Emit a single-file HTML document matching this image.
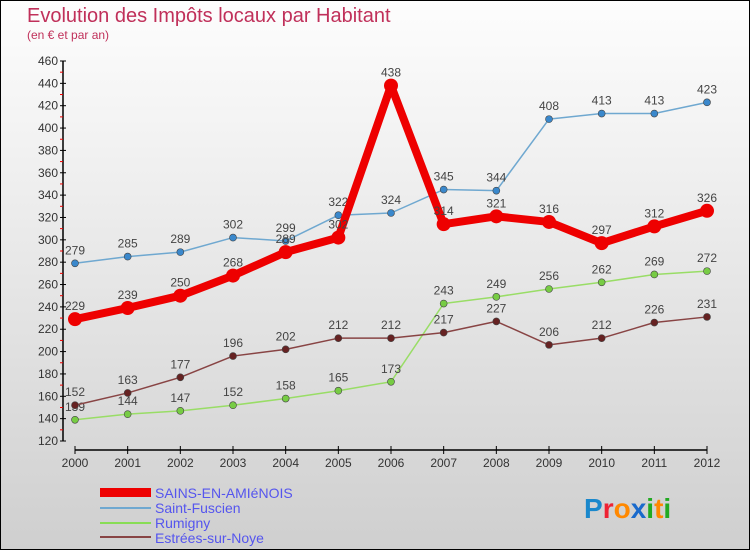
<!DOCTYPE html>
<html><head><meta charset="utf-8"><style>
body{margin:0}
#c{width:750px;height:550px;position:relative;box-sizing:border-box;border:1px solid #000;background:linear-gradient(#fdfdfd,#f0f0f0 30%,#cfcfcf);font-family:"Liberation Sans",sans-serif;overflow:hidden}
</style></head><body>
<div id="c">
<svg id="s" width="750" height="550" style="position:absolute;left:-1px;top:-1px">
<text x="27" y="22" font-size="20" fill="#c0305a">Evolution des Impôts locaux par Habitant</text>
<text x="27" y="39" font-size="12" fill="#c0305a">(en € et par an)</text>
<g id="axes"></g><g id="series"></g>
<g>
<rect x="100" y="488" width="51" height="9" fill="#ee0000"/>
<text x="155" y="498" font-size="14" fill="#5555ee">SAINS-EN-AMIéNOIS</text>
<line x1="100" y1="508" x2="151" y2="508" stroke="#6fa8d0" stroke-width="2"/>
<text x="155" y="513" font-size="14" fill="#5555ee">Saint-Fuscien</text>
<line x1="100" y1="523" x2="151" y2="523" stroke="#88dd55" stroke-width="2"/>
<text x="155" y="528" font-size="14" fill="#5555ee">Rumigny</text>
<line x1="100" y1="537" x2="151" y2="537" stroke="#884444" stroke-width="2"/>
<text x="155" y="543" font-size="14" fill="#5555ee">Estrées-sur-Noye</text>
</g>
<text x="584" y="518" font-size="28" font-weight="bold"><tspan fill="#1a88cc">P</tspan><tspan fill="#e23">r</tspan><tspan fill="#f80">o</tspan><tspan fill="#1a6acc">x</tspan><tspan fill="#2a2">i</tspan><tspan fill="#f80">t</tspan><tspan fill="#2a2">i</tspan></text>
</svg>
</div>
<script>
const years=[2000,2001,2002,2003,2004,2005,2006,2007,2008,2009,2010,2011,2012];
const sains=[229,239,250,268,289,302,438,314,321,316,297,312,326];
const fuscien=[279,285,289,302,299,322,324,345,344,408,413,413,423];
const rumigny=[139,144,147,152,158,165,173,243,249,256,262,269,272];
const estrees=[152,163,177,196,202,212,212,217,227,206,212,226,231];
const yTicks=[120,140,160,180,200,220,240,260,280,300,320,340,360,380,400,420,440,460];
const NS="http://www.w3.org/2000/svg";
const X=i=>75+i*(707-75)/12;
const Y=v=>441-(v-120)*(380/340);
function mk(tag,at,par){const e=document.createElementNS(NS,tag);for(const k in at)e.setAttribute(k,at[k]);par.appendChild(e);return e;}
const ax=document.getElementById('axes');
let a=mk('line',{x1:63,y1:Y(460),x2:63,y2:Y(120),stroke:'#000','stroke-width':1.5},ax);


a=mk('line',{x1:X(0),y1:450,x2:X(12),y2:450,stroke:'#000','stroke-width':1.5},ax);


yTicks.forEach(t=>{
 mk('line',{x1:60,x2:66,y1:Y(t),y2:Y(t),stroke:'#000'},ax);
 if(t<460)mk('line',{x1:60,x2:63,y1:Y(t+10),y2:Y(t+10),stroke:'#e00'},ax);
 const tx=mk('text',{x:58,y:Y(t)+4,'font-size':12,'text-anchor':'end',fill:'#333'},ax);tx.textContent=t;
 
 
});
years.forEach((y,i)=>{
 mk('line',{x1:X(i),x2:X(i),y1:446,y2:454,stroke:'#000'},ax);
 const tx=mk('text',{x:X(i),y:467,'font-size':12,'text-anchor':'middle',fill:'#333'},ax);tx.textContent=y;
 
 
});
const sg=document.getElementById('series');
function draw(vals,color,w,r,name,dot){
 const g=mk('g',{},sg);
 
 
 mk('polyline',{points:vals.map((v,i)=>X(i)+','+Y(v)).join(' '),fill:'none',stroke:color,'stroke-width':w,'stroke-linejoin':'round'},g);
 vals.forEach((v,i)=>{
  const c=mk('circle',{cx:X(i),cy:Y(v),r:r,fill:dot,stroke:'#444','stroke-width':r>4?0:0.6},g);
  
  
  const t=mk('text',{x:X(i),y:Y(v)-9,'font-size':12,'text-anchor':'middle',fill:'#444'},g);t.textContent=v;
  
  
 });
}
draw(fuscien,'#6fa8d0',1.5,3.5,'saint-fuscien','#3a88cc');
draw(rumigny,'#99dd66',1.5,3.5,'rumigny','#77cc44');
draw(estrees,'#884444',1.5,3.5,'estrees','#662222');
draw(sains,'#ee0000',8,7,'sains','#ee0000');
</script>
</body></html>
